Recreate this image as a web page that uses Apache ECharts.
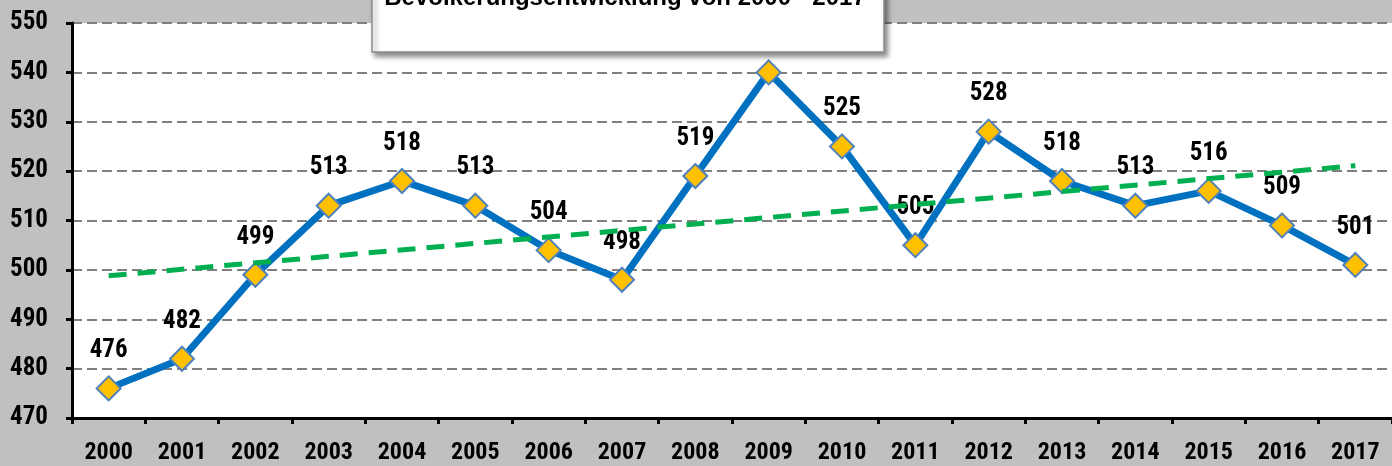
<!DOCTYPE html>
<html>
<head>
<meta charset="utf-8">
<script src="https://cdn.jsdelivr.net/npm/echarts@6/dist/echarts.min.js"></script>
<style>
  html, body { margin: 0; padding: 0; background: #c0c0c0; }
  #chart { width: 1392px; height: 466px; }
</style>
</head>
<body>
<div id="chart"></div>
<script>
// Bevölkerung je Jahr
const years = ['2000', '2001', '2002', '2003', '2004', '2005', '2006', '2007', '2008',
  '2009', '2010', '2011', '2012', '2013', '2014', '2015', '2016', '2017'];
const population = [476, 482, 499, 513, 518, 513, 504, 498, 519, 540, 525, 505, 528, 518, 513, 516, 509, 501];
// linearer Trend (Anfang / Ende)
const trendYears = ['2000', '2017'];
const trendValues = [498.8, 521.1];
const yTicks = [470, 550, 10]; // min, max, interval
const title = 'Bevölkerungsentwicklung von 2000 - 2017';

const narrow = '"Roboto Condensed", "Liberation Sans", sans-serif';

const chart = echarts.init(document.getElementById('chart'));

chart.setOption({
  backgroundColor: '#c0c0c0',
  animation: false,
  grid: { left: 72, right: 0, top: 23, bottom: 48, show: true, backgroundColor: '#fff', borderWidth: 0 },
  xAxis: {
    type: 'category',
    data: years,
    boundaryGap: true,
    axisLine: { lineStyle: { color: '#000', width: 3 } },
    axisTick: { show: true, length: 6, lineStyle: { color: '#000', width: 3 } },
    axisLabel: { color: '#000', fontFamily: narrow, fontWeight: 'bold', fontSize: 24, margin: 23 },
    splitLine: { show: false }
  },
  yAxis: {
    type: 'value',
    min: yTicks[0],
    max: yTicks[1],
    interval: yTicks[2],
    axisLine: { show: true, lineStyle: { color: '#000', width: 3 } },
    axisTick: { show: true, length: 6, lineStyle: { color: '#000', width: 3 } },
    axisLabel: { color: '#000', fontFamily: narrow, fontWeight: 'bold', fontSize: 25, margin: 24 },
    splitLine: { show: true, lineStyle: { color: '#808080', width: 2, type: [10, 5] } }
  },
  series: [
    {
      type: 'line',
      data: population,
      z: 2,
      lineStyle: { color: '#0070c0', width: 7 },
      symbol: 'diamond',
      symbolSize: 24,
      itemStyle: { color: '#ffc000', borderColor: '#4f81bd', borderWidth: 2 },
      label: {
        show: true,
        position: 'top',
        distance: 12,
        color: '#000',
        fontFamily: narrow,
        fontWeight: 'bold',
        fontSize: 25
      }
    },
    {
      type: 'line',
      data: trendYears.map((y, i) => [y, trendValues[i]]),
      z: 3,
      symbol: 'none',
      silent: true,
      lineStyle: { color: '#00b050', width: 5, type: [18, 11] }
    }
  ],
  graphic: [
    {
      type: 'rect',
      shape: { x: 372, y: -10, width: 512, height: 62 },
      style: {
        fill: '#fff', stroke: '#8c8c8c', lineWidth: 1.5,
        shadowBlur: 5, shadowOffsetX: 3, shadowOffsetY: 4, shadowColor: 'rgba(0,0,0,0.45)'
      },
      z: 10
    },
    {
      type: 'text',
      style: {
        x: 625, y: -2, text: title,
        textAlign: 'center', textVerticalAlign: 'middle',
        font: 'bold 24px "Liberation Sans", Arial, sans-serif', fill: '#000'
      },
      z: 11
    }
  ]
});

window.addEventListener('resize', function () {
  chart.resize();
});
</script>
</body>
</html>
